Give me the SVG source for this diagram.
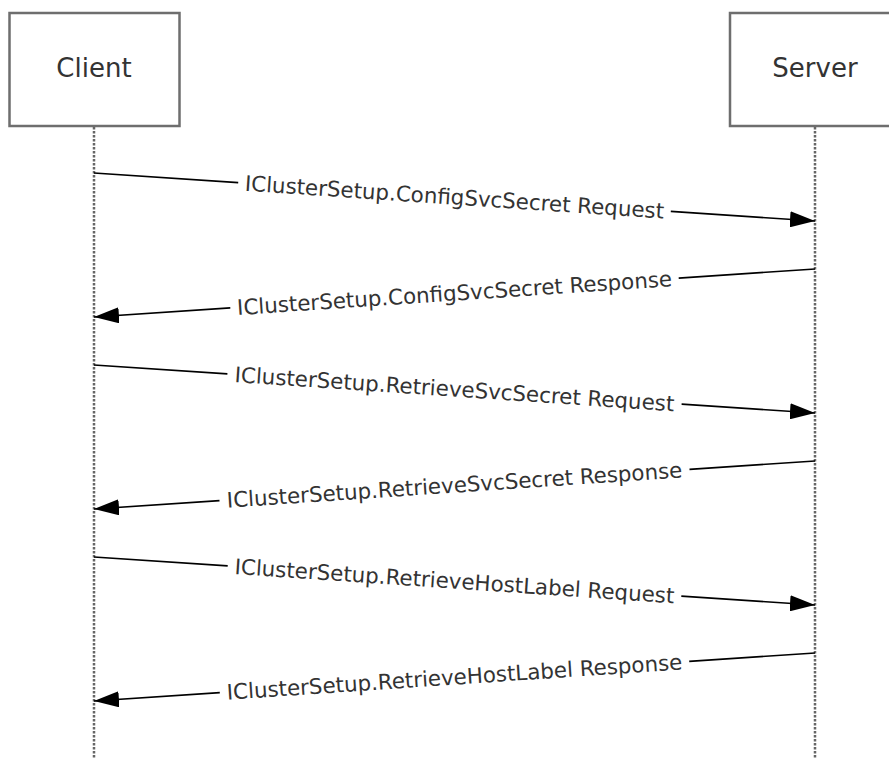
<svg xmlns="http://www.w3.org/2000/svg" width="889" height="758" viewBox="0 0 889 758">
<style>
.box{fill:#fff;stroke:#6e6e6e;stroke-width:2.5}
.lbl{font-family:"DejaVu Sans",Verdana,sans-serif;font-size:26px;fill:#333;text-anchor:middle}
.msg{font-family:"DejaVu Sans",Verdana,sans-serif;font-size:21.4px;fill:#333;text-anchor:middle}
.life{stroke:#666;stroke-width:2.5;fill:none;stroke-dasharray:2.5 1.5}
.ln{stroke:#000;stroke-width:1.6;fill:none}
.arr{marker-end:url(#ah)}
</style>
<defs>
<marker id="ah" markerUnits="userSpaceOnUse" markerWidth="25" markerHeight="16" refX="25" refY="8" orient="auto">
<path d="M0,0 L25,8 L0,16 z" fill="#000"/>
</marker>
</defs>
<g id="client">
<rect class="box" x="9.5" y="13" width="170" height="113"/>
<text class="lbl" x="94" y="77">Client</text>
<line class="life" x1="94" y1="127" x2="94" y2="758"/>
</g>
<g id="server">
<rect class="box" x="730" y="13" width="170" height="113"/>
<text class="lbl" x="815" y="77">Server</text>
<line class="life" x1="815" y1="127" x2="815" y2="758"/>
</g>
<g id="connectors">
<g id="m1">
<line class="ln" x1="94" y1="173" x2="238.2" y2="182.6"/>
<line class="ln arr" x1="670.8" y1="211.4" x2="815" y2="221"/>
<text class="msg" transform="translate(454.5,197) rotate(3.81)" y="7.6">IClusterSetup.ConfigSvcSecret Request</text>
</g>
<g id="m2">
<line class="ln" x1="815" y1="269" x2="678.7" y2="278.1"/>
<line class="ln arr" x1="230.3" y1="307.9" x2="94" y2="317"/>
<text class="msg" transform="translate(454.5,293) rotate(-3.81)" y="7.6">IClusterSetup.ConfigSvcSecret Response</text>
</g>
<g id="m3">
<line class="ln" x1="94" y1="365" x2="227.4" y2="373.9"/>
<line class="ln arr" x1="681.6" y1="404.1" x2="815" y2="413"/>
<text class="msg" transform="translate(454.5,389) rotate(3.81)" y="7.6">IClusterSetup.RetrieveSvcSecret Request</text>
</g>
<g id="m4">
<line class="ln" x1="815" y1="461" x2="689.5" y2="469.4"/>
<line class="ln arr" x1="219.5" y1="500.6" x2="94" y2="509"/>
<text class="msg" transform="translate(454.5,485) rotate(-3.81)" y="7.6">IClusterSetup.RetrieveSvcSecret Response</text>
</g>
<g id="m5">
<line class="ln" x1="94" y1="557" x2="227.7" y2="565.9"/>
<line class="ln arr" x1="681.3" y1="596.1" x2="815" y2="605"/>
<text class="msg" transform="translate(454.5,581) rotate(3.81)" y="7.6">IClusterSetup.RetrieveHostLabel Request</text>
</g>
<g id="m6">
<line class="ln" x1="815" y1="653" x2="689.2" y2="661.4"/>
<line class="ln arr" x1="219.8" y1="692.6" x2="94" y2="701"/>
<text class="msg" transform="translate(454.5,677) rotate(-3.81)" y="7.6">IClusterSetup.RetrieveHostLabel Response</text>
</g>
</g>
</svg>
